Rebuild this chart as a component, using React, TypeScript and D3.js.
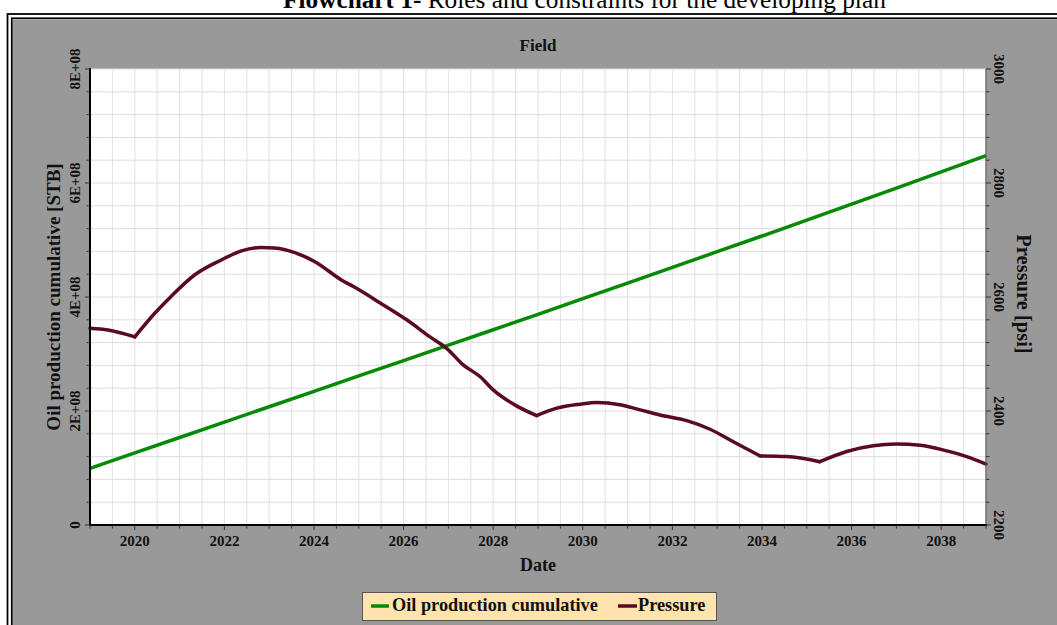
import React from "react";
import * as d3 from "d3";

const W = 1057;
const H = 625;

// Oil production cumulative [STB], yearly
const oilYears = [2019, 2020, 2021, 2022, 2023, 2024, 2025, 2026, 2027, 2028, 2029, 2030, 2031, 2032, 2033, 2034, 2035, 2036, 2037, 2038, 2039];
const oilCum = [0.995e8, 1.265e8, 1.535e8, 1.805e8, 2.075e8, 2.345e8, 2.615e8, 2.885e8, 3.155e8, 3.425e8, 3.695e8, 3.97e8, 4.245e8, 4.52e8, 4.795e8, 5.07e8, 5.35e8, 5.63e8, 5.91e8, 6.195e8, 6.48e8];

// Pressure [psi]
const pressureDates = [2019.0, 2019.4, 2020.0, 2020.44, 2020.81, 2021.34, 2021.93, 2022.38, 2022.82, 2023.12, 2023.57, 2024.02, 2024.61, 2024.91, 2025.47, 2026.07, 2026.59, 2026.96, 2027.33, 2027.71, 2028.0, 2028.52, 2028.97, 2029.42, 2029.94, 2030.31, 2030.83, 2031.28, 2031.72, 2032.32, 2032.84, 2033.36, 2033.96, 2034.55, 2035.29, 2035.89, 2036.48, 2037.0, 2037.53, 2038.12, 2038.57, 2039.0];
const pressureValues = [2545, 2542, 2530, 2571, 2601, 2639, 2665, 2681, 2687, 2686, 2678, 2662, 2630, 2617, 2590, 2560, 2530, 2510, 2481, 2460, 2437, 2409, 2392, 2405, 2412, 2415, 2411, 2402, 2393, 2383, 2368, 2346, 2321, 2320, 2311, 2329, 2339, 2342, 2340, 2330, 2320, 2307];
// indices where the pressure curve has sharp corners
const pressureBreaks = [0, 2, 22, 32, 34, 41];

const xTickLabels = [2020, 2022, 2024, 2026, 2028, 2030, 2032, 2034, 2036, 2038];
const leftTickValues = [0, 2e8, 4e8, 6e8, 8e8];
const leftTickLabels = ["0", "2E+08", "4E+08", "6E+08", "8E+08"];
const rightTickValues = [2200, 2400, 2600, 2800, 3000];
const rightTickLabels = ["2200", "2400", "2600", "2800", "3000"];

const seriesNames = ["Oil production cumulative", "Pressure"];
const titleBold = "Flowchart 1-";
const titleRest = " Roles and constraints for the developing plan";

const FONT = "'Liberation Serif', 'Times New Roman', serif";
const GREEN = "#048a04";
const MAROON = "#5a0a24";

export default function App() {
  const L = 90, R = 986, T = 69, B = 525;
  const x = d3.scaleLinear().domain([2019, 2039]).range([L, R]);
  const yL = d3.scaleLinear().domain([0, 8e8]).range([B, T]);
  const yR = d3.scaleLinear().domain([2200, 3000]).range([B, T]);

  const xMinor = d3.range(0, 41).map((i) => 2019 + i * 0.5);
  const yLMinor = d3.range(0, 21).map((i) => i * 4e7);
  const yRMinor = d3.range(0, 21).map((i) => 2200 + i * 40);

  const oilLine = d3
    .line<number>()
    .x((_, i) => x(oilYears[i]))
    .y((d) => yL(d))
    .curve(d3.curveLinear)(oilCum) as string;

  const pGen = d3
    .line<number>()
    .x((i) => x(pressureDates[i]))
    .y((i) => yR(pressureValues[i]))
    .curve(d3.curveMonotoneX);
  const pPaths: string[] = [];
  for (let k = 0; k < pressureBreaks.length - 1; k++) {
    const idx = d3.range(pressureBreaks[k], pressureBreaks[k + 1] + 1);
    pPaths.push(pGen(idx) as string);
  }

  const isMajorX = (v: number) => Math.abs(v - Math.round(v)) < 1e-6 && Math.round(v) % 2 === 0;

  return (
    <svg
      width={W}
      height={H}
      style={{ position: "absolute", left: 0, top: 0, fontFamily: FONT }}
    >
      <rect x={0} y={0} width={W} height={H} fill="#ffffff" />
      {/* title */}
      <text x={283} y={8} fontSize={25.3} fill="#000">
        <tspan fontWeight="bold">{titleBold}</tspan>
        <tspan>{titleRest}</tspan>
      </text>
      {/* frame */}
      <rect x={7.5} y={14} width={1200} height={800} fill="none" stroke="#000" strokeWidth={1.8} />
      <rect x={11.8} y={18.3} width={1200} height={800} fill="none" stroke="#000" strokeWidth={1.8} />
      <rect x={13} y={19.5} width={1200} height={800} fill="#999999" />

      {/* plot area */}
      <rect x={L} y={T} width={R - L} height={B - T} fill="#ffffff" />
      {xMinor.map((v, i) => (
        <line key={"gx" + i} x1={x(v)} x2={x(v)} y1={T} y2={B} stroke="#e0e0e0" strokeWidth={1} />
      ))}
      {yLMinor.map((v, i) => (
        <line key={"gy" + i} x1={L} x2={R} y1={yL(v)} y2={yL(v)} stroke="#dedede" strokeWidth={1} />
      ))}

      {/* series */}
      <path d={oilLine} fill="none" stroke={GREEN} strokeWidth={3.5} strokeLinejoin="round" />
      {pPaths.map((d, i) => (
        <path key={"p" + i} d={d} fill="none" stroke={MAROON} strokeWidth={3.5} strokeLinejoin="round" strokeLinecap="round" />
      ))}

      {/* axes lines */}
      <line x1={R} x2={R} y1={T} y2={B} stroke="#555" strokeWidth={1.2} />
      <line x1={L} x2={L} y1={T - 1} y2={B + 1} stroke="#000" strokeWidth={2} />
      <line x1={L - 1} x2={R + 1} y1={B} y2={B} stroke="#000" strokeWidth={2} />

      {/* x ticks */}
      {xMinor.map((v, i) => (
        <line key={"xt" + i} x1={x(v)} x2={x(v)} y1={B} y2={B + (isMajorX(v) ? 5 : 3.5)} stroke="#333" strokeWidth={1} />
      ))}
      {xTickLabels.map((v) => (
        <text key={"xl" + v} x={x(v)} y={546} textAnchor="middle" fontSize={15} fontWeight="bold" fill="#111">
          {v}
        </text>
      ))}

      {/* left ticks */}
      {yLMinor.map((v, i) => (
        <line key={"lt" + i} x1={L - (i % 5 === 0 ? 5 : 3.5)} x2={L} y1={yL(v)} y2={yL(v)} stroke="#333" strokeWidth={1} />
      ))}
      {leftTickValues.map((v, i) => (
        <text
          key={"ll" + i}
          transform={`translate(80,${yL(v)}) rotate(-90)`}
          textAnchor="middle"
          fontSize={15}
          fontWeight="bold"
          fill="#111"
        >
          {leftTickLabels[i]}
        </text>
      ))}

      {/* right ticks */}
      {yRMinor.map((v, i) => (
        <line key={"rt" + i} x1={R} x2={R + (i % 5 === 0 ? 5 : 3.5)} y1={yR(v)} y2={yR(v)} stroke="#333" strokeWidth={1} />
      ))}
      {rightTickValues.map((v, i) => (
        <text
          key={"rl" + i}
          transform={`translate(994,${yR(v)}) rotate(90)`}
          textAnchor="middle"
          fontSize={15}
          fontWeight="bold"
          fill="#111"
        >
          {rightTickLabels[i]}
        </text>
      ))}

      {/* titles */}
      <text x={(L + R) / 2} y={51} textAnchor="middle" fontSize={17} fontWeight="bold" fill="#111">
        Field
      </text>
      <text x={(L + R) / 2} y={571} textAnchor="middle" fontSize={18} fontWeight="bold" fill="#111">
        Date
      </text>
      <text
        transform={`translate(60,${(T + B) / 2}) rotate(-90)`}
        textAnchor="middle"
        fontSize={19}
        fontWeight="bold"
        fill="#111"
      >
        Oil production cumulative [STB]
      </text>
      <text
        transform={`translate(1017,${(T + B) / 2 - 3}) rotate(90)`}
        textAnchor="middle"
        fontSize={20.5}
        fontWeight="bold"
        fill="#111"
      >
        Pressure [psi]
      </text>

      {/* legend */}
      <rect x={362.5} y={592.5} width={354} height={28} fill="#ffe4b0" stroke="#555" strokeWidth={1} />
      <line x1={371} x2={389} y1={606} y2={606} stroke={GREEN} strokeWidth={3.5} />
      <text x={392} y={611} fontSize={18.3} fontWeight="bold" fill="#111">
        {seriesNames[0]}
      </text>
      <line x1={618} x2={637} y1={606} y2={606} stroke={MAROON} strokeWidth={3.5} />
      <text x={638} y={611} fontSize={18.3} fontWeight="bold" fill="#111">
        {seriesNames[1]}
      </text>
    </svg>
  );
}
